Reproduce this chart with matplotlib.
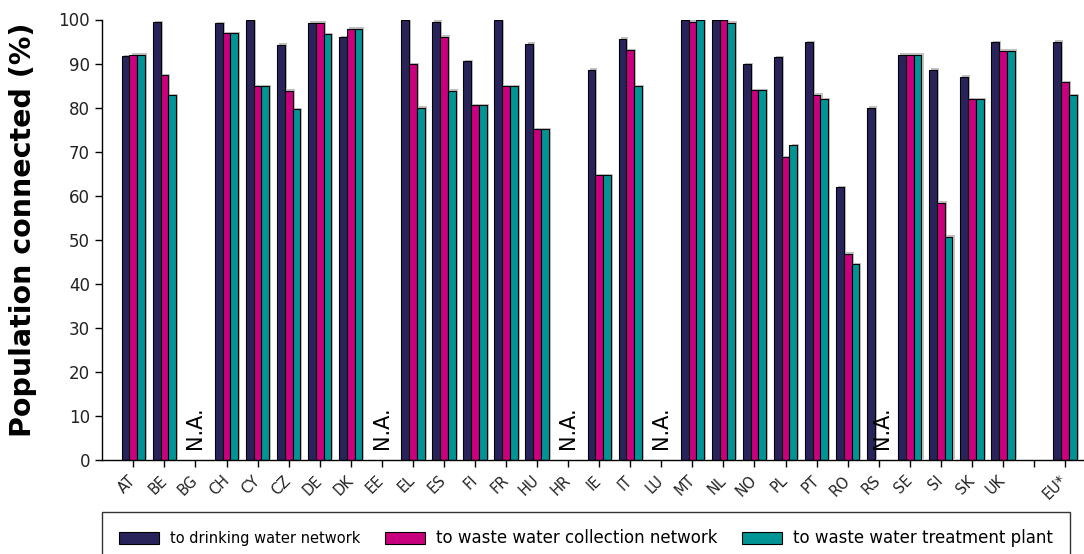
import numpy as np
import matplotlib
matplotlib.use("Agg")
import matplotlib.pyplot as plt
import matplotlib.patheffects as pe

# countries (blank slot between UK and EU*)
countries = ["AT", "BE", "BG", "CH", "CY", "CZ", "DE", "DK", "EE", "EL",
             "ES", "FI", "FR", "HU", "HR", "IE", "IT", "LU", "MT", "NL",
             "NO", "PL", "PT", "RO", "RS", "SE", "SI", "SK", "UK", "", "EU*"]

nan = np.nan
drinking = [91.7, 99.4, nan, 99.2, 100.0, 94.3, 99.3, 96.0, nan, 100.0,
            99.5, 90.6, 100.0, 94.5, nan, 88.6, 95.6, nan, 100.0, 100.0,
            89.9, 91.5, 94.9, 61.9, 80.0, 92.0, 88.6, 87.0, 94.9, nan, 95.0]
collection = [92.0, 87.4, nan, 96.9, 84.9, 83.8, 99.3, 97.9, nan, 89.9,
              96.1, 80.6, 84.9, 75.1, nan, 64.6, 93.1, nan, 99.5, 99.9,
              84.0, 68.7, 82.9, 46.8, nan, 92.0, 58.4, 81.9, 92.9, nan, 85.7]
treatment = [92.0, 82.8, nan, 96.9, 84.9, 79.7, 96.7, 97.9, nan, 80.0,
             83.8, 80.6, 84.9, 75.1, nan, 64.6, 84.9, nan, 100.0, 99.3,
             84.0, 71.5, 81.9, 44.5, nan, 92.0, 50.7, 81.9, 92.9, nan, 82.8]

na_countries = ["BG", "EE", "HR", "LU", "RS"]

series_names = ["to drinking water network",
                "to waste water collection network",
                "to waste water treatment plant"]
colors = ["#29235C", "#C8007D", "#009494"]

plt.rcParams["font.family"] = ["DejaVu Sans"]

fig = plt.figure(figsize=(10.84, 5.54), dpi=100)
ax = fig.add_axes([101.7 / 1084, 1 - 460 / 554, 1 - 101.7 / 1084, (460 - 19.5) / 554])

x = np.arange(len(countries))
w = 0.25
shadow = [pe.SimplePatchShadow(offset=(1.5, 1), shadow_rgbFace="#999999", alpha=0.6), pe.Normal()]
handles = []
for i, (vals, c) in enumerate(zip([drinking, collection, treatment], colors)):
    bars = ax.bar(x + (i - 1) * w, vals, width=w, color=c, edgecolor="black",
                  linewidth=0.8, label=series_names[i])
    for b in bars:
        b.set_path_effects(shadow)
    handles.append(bars)

for name in na_countries:
    k = countries.index(name)
    dx = 0.1 if name == "RS" else 0.0
    ax.text(k + dx, 2.4, "N.A.", rotation=90, ha="center", va="bottom",
            fontsize=15, color="black")

ax.set_xlim(-1.02, 30.61)
ax.set_ylim(0, 100)
ax.set_yticks(np.arange(0, 101, 10))
ax.set_xticks(x)
ax.set_xticklabels(countries, rotation=45, ha="right", va="center",
                   rotation_mode="anchor", fontsize=10.5, color="#222222")
ax.tick_params(axis="y", labelsize=12, length=5, width=1, direction="out", colors="black")
ax.tick_params(axis="x", length=5, width=1, direction="out", pad=8)
for lab in ax.get_yticklabels():
    lab.set_color("#222222")
ax.spines["top"].set_visible(False)
ax.spines["right"].set_visible(False)
ax.spines["left"].set_linewidth(1)
ax.spines["bottom"].set_linewidth(1)

ax.set_ylabel("Population connected (%)", fontsize=20.5, fontweight="bold")
ax.yaxis.set_label_coords(-0.066, 0.522)

leg = fig.legend(handles=handles, labels=series_names, loc="upper left",
                 bbox_to_anchor=(101.7 / 1084, 1 - 511.7 / 554, (1070 - 101.7) / 1084, 0),
                 mode="expand", ncol=3, fontsize=10.5, frameon=True, fancybox=False,
                 framealpha=1, handlelength=2.75, handleheight=0.9, handletextpad=0.7,
                 borderpad=1.2, borderaxespad=0)
leg.get_frame().set_edgecolor("#333333")
leg.get_frame().set_linewidth(1)
# the first entry is set in a smaller font in the original
leg_texts = leg.get_texts()
leg_texts[1].set_fontsize(12)
leg_texts[2].set_fontsize(12)
for h in leg.legend_handles:
    h.set_path_effects([])

fig.savefig("out.png", dpi=100)
